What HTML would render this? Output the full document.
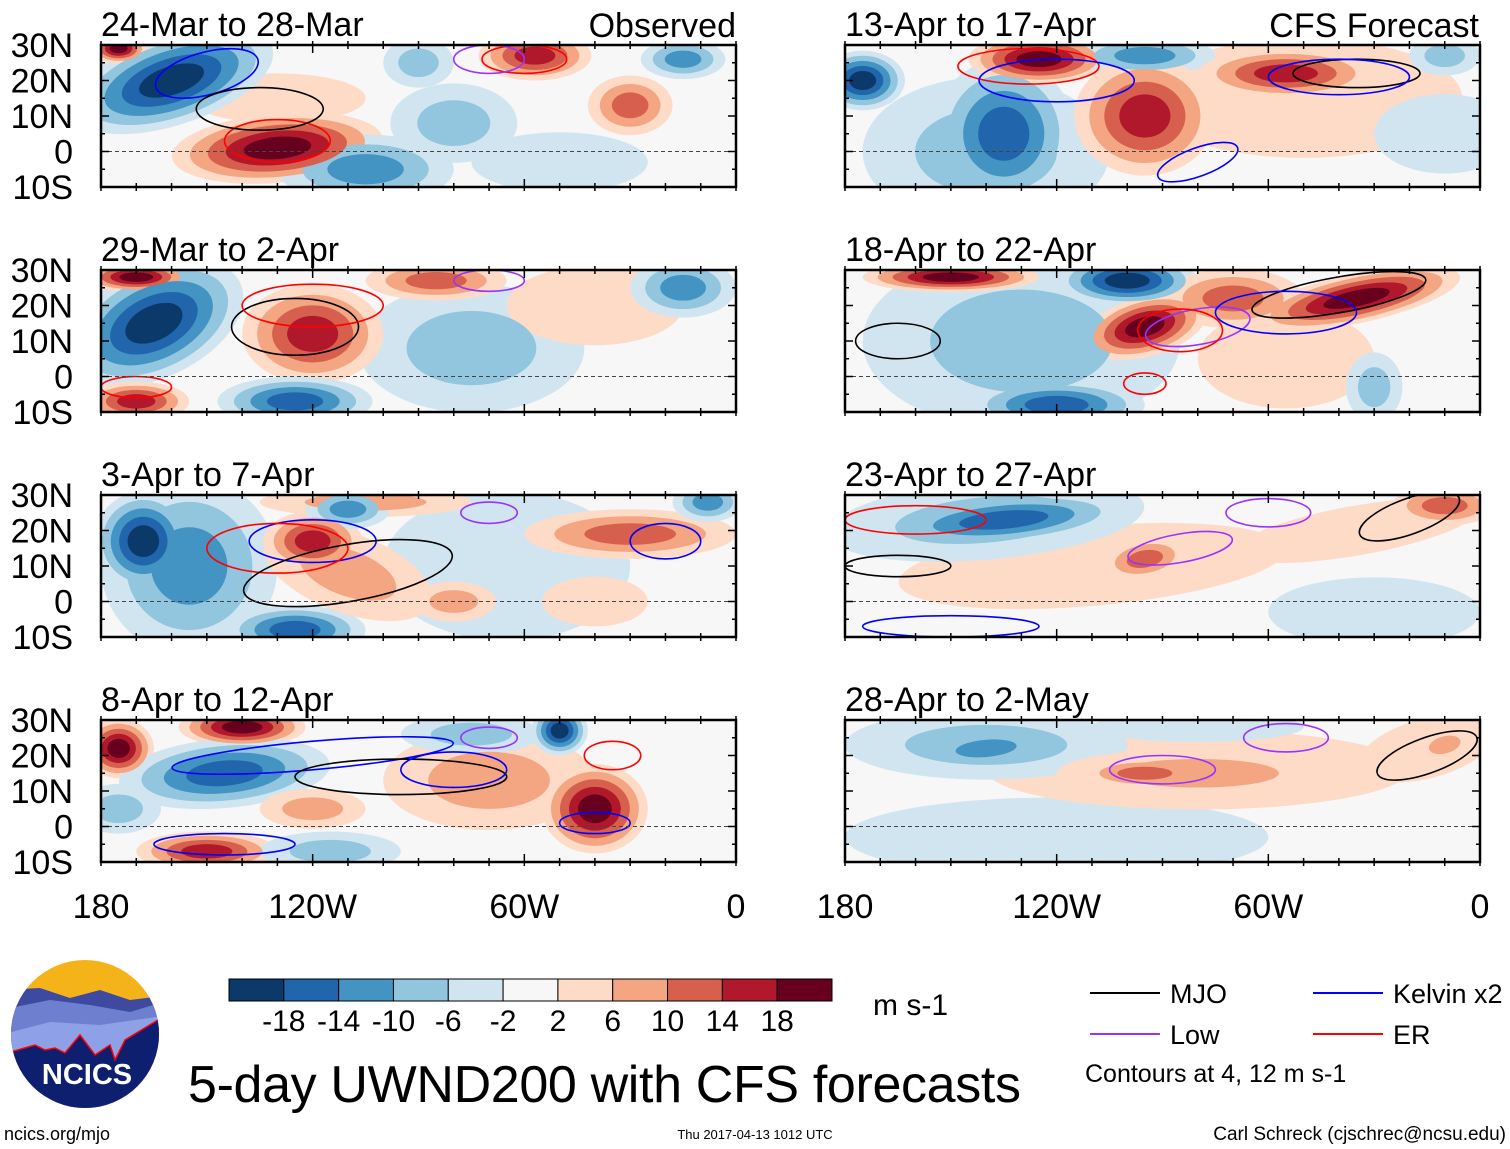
<!DOCTYPE html>
<html><head><meta charset="utf-8"><style>
html,body{margin:0;padding:0;background:#fff;}
svg{display:block;font-family:"Liberation Sans",Arial,sans-serif;}
</style></head><body>
<svg id="chart" width="1510" height="1149" viewBox="0 0 1510 1149"></svg>
<script>
// ---- data ----
const levelsPos = [2,6,10,14,18];
const colorsPos = ["#fddbc7","#f4a582","#d6604d","#b2182b","#67001f"];
const colorsNeg = ["#d1e5f0","#92c5de","#4393c3","#2166ac","#0b3a6a"];
const cbarColors = ["#0b3a6a","#2166ac","#4393c3","#92c5de","#d1e5f0","#f7f7f7","#fddbc7","#f4a582","#d6604d","#b2182b","#67001f"];
const cbarLabels = ["-18","-14","-10","-6","-2","2","6","10","14","18"];
const latTicks = ["30N","20N","10N","0","10S"];
const latVals = [30,20,10,0,-10];
const lonTickLabels = ["180","120W","60W","0"];
const lonTickVals = [180,120,60,0];
const panelTitles = ["24-Mar to 28-Mar","29-Mar to 2-Apr","3-Apr to 7-Apr","8-Apr to 12-Apr","13-Apr to 17-Apr","18-Apr to 22-Apr","23-Apr to 27-Apr","28-Apr to 2-May"];
// blobs: [lonW, lat, value, rxDeg, ryDeg, rot]
const panelBlobs = [
 [[130,15,2,25,5,0],[160,20,-18,30,9,-18],[175,29,18,8,3,0],[130,1,18,30,7,-5],[57,27,14,16,5,0],[30,13,10,12,6,0],[80,8,-6,18,8,0],[105,-5,-10,25,7,0],[50,-3,-2,25,6,0],[15,26,-10,12,4,0],[90,25,-6,10,5,0]],
 [[75,8,-6,32,13,0],[40,20,2,25,8,0],[165,15,-18,27,11,-25],[170,28,18,15,3,0],[120,12,14,20,10,0],[170,-7,14,15,4,0],[125,-7,-14,22,5,0],[85,27,10,20,4,0],[15,25,-10,15,6,0]],
 [[65,10,-2,35,15,0],[155,10,-10,25,18,0],[168,17,-18,14,10,0],[125,-8,-14,20,5,0],[110,8,6,25,8,20],[120,17,14,14,6,0],[105,28,6,30,3,0],[110,26,-10,12,4,0],[30,19,10,30,5,0],[8,28,-10,10,4,0],[80,0,6,12,4,0],[40,0,2,15,5,0]],
 [[70,13,6,30,10,0],[175,22,18,10,6,0],[140,28,18,18,4,0],[145,15,-14,30,7,-5],[75,26,-6,20,4,0],[50,27,-18,8,5,0],[40,5,18,15,9,0],[120,5,6,15,4,0],[150,-7,14,20,4,0],[115,-7,-6,20,4,0],[175,5,-6,12,5,0]],
 [[50,15,2,45,12,0],[140,0,-6,35,15,0],[175,20,-18,12,6,0],[135,5,-14,20,15,0],[125,26,18,20,5,0],[95,27,-10,20,4,0],[95,10,14,20,12,0],[55,22,14,25,5,0],[10,5,-2,20,8,0],[10,27,-6,10,4,0]],
 [[130,10,-6,45,18,0],[55,5,2,25,10,0],[150,28,18,25,3,0],[100,27,-18,20,5,0],[95,14,18,18,6,-15],[35,22,18,30,5,-12],[70,22,10,20,6,0],[120,-8,-14,25,5,0],[30,-3,-6,8,7,0]],
 [[110,10,2,55,8,-5],[140,23,-6,45,8,-5],[135,23,-14,35,5,-5],[95,12,10,12,4,-10],[35,20,2,35,5,-10],[10,27,10,15,4,0],[30,-3,-2,30,7,0]],
 [[120,-3,-2,60,8,0],[80,16,2,60,8,0],[140,23,-6,40,7,0],[140,22,-10,20,4,-5],[80,15,6,40,5,0],[95,15,10,18,3,0],[15,22,2,20,6,-15],[10,23,6,8,3,-15],[80,28,-2,30,3,0]]
];
// contours: [lonW, lat, rxDeg, ryDeg, rot, color]
const panelContours = [
 [[130,3,15,6,0,"red"],[150,22,15,6,-15,"blue"],[60,26,12,4,0,"red"],[70,26,10,4,0,"#9933ff"],[135,12,18,6,0,"black"]],
 [[125,14,18,8,0,"black"],[120,20,20,6,0,"red"],[70,27,10,3,0,"#9933ff"],[170,-3,10,3,0,"red"]],
 [[120,17,18,6,0,"blue"],[130,15,20,7,0,"red"],[110,8,30,8,-10,"black"],[20,17,10,5,0,"blue"],[70,25,8,3,0,"#9933ff"]],
 [[120,20,40,4,-5,"blue"],[95,14,30,5,0,"black"],[80,16,15,5,0,"blue"],[40,1,10,3,0,"blue"],[145,-5,20,3,0,"blue"],[35,20,8,4,0,"red"],[70,25,8,3,0,"#9933ff"]],
 [[128,24,20,5,0,"red"],[120,20,22,6,0,"blue"],[35,22,18,4,0,"black"],[40,21,20,5,0,"blue"],[80,-3,12,4,-20,"blue"]],
 [[80,14,15,5,-10,"#9933ff"],[85,13,12,6,0,"red"],[40,23,25,5,-10,"black"],[55,18,20,6,0,"blue"],[165,10,12,5,0,"black"],[95,-2,6,3,0,"red"]],
 [[85,15,15,4,-10,"#9933ff"],[60,25,12,4,0,"#9933ff"],[20,24,15,5,-20,"black"],[150,-7,25,3,0,"blue"],[160,23,20,4,0,"red"],[165,10,15,3,0,"black"]],
 [[90,16,15,4,0,"#9933ff"],[55,25,12,4,0,"#9933ff"],[15,20,15,5,-20,"black"]]
];
// ---- layout ----
const NS="http://www.w3.org/2000/svg";
const svg=document.getElementById('chart');
function el(tag,attrs,parent){const e=document.createElementNS(NS,tag);for(const k in attrs)e.setAttribute(k,attrs[k]);(parent||svg).appendChild(e);return e;}
const pw=635, ph=142;
const colX=[101,845], rowY=[45,270,495,720];
const kx=pw/180, ky=ph/40;
function xScale(x0,lonW){return x0+(180-lonW)*kx;}
function yScale(y0,lat){return y0+(30-lat)*ky;}
const defs=el('defs',{});
for(let p=0;p<8;p++){
  const x0=colX[p<4?0:1], y0=rowY[p%4];
  const cp=el('clipPath',{id:'clip'+p},defs);
  el('rect',{x:x0,y:y0,width:pw,height:ph},cp);
  const g=el('g',{'clip-path':'url(#clip'+p+')'});
  
  
  el('rect',{x:x0,y:y0,width:pw,height:ph,fill:'#f7f7f7'},g);
  const blobs=panelBlobs[p];
  for(let li=0;li<levelsPos.length;li++){
    const L=levelsPos[li];
    blobs.forEach(b=>{
      const v=Math.abs(b[2]); if(L>v)return;
      const nL=levelsPos.filter(q=>q<=v).length;
      const f=1-li/nL*0.85;
      const cx=xScale(x0,b[0]), cy=yScale(y0,b[1]);
      const e=el('ellipse',{cx:cx,cy:cy,rx:b[3]*kx*f,ry:b[4]*ky*f*1.4,fill:b[2]>0?colorsPos[li]:colorsNeg[li],transform:`rotate(${b[5]} ${cx} ${cy})`},g);
      
      
    });
  }
  panelContours[p].forEach(c=>{
    const cx=xScale(x0,c[0]), cy=yScale(y0,c[1]);
    const e=el('ellipse',{cx:cx,cy:cy,rx:c[2]*kx,ry:c[3]*ky,fill:'none',stroke:c[5],'stroke-width':1.6,transform:`rotate(${c[4]} ${cx} ${cy})`},g);
    
    
  });
  el('line',{x1:x0,x2:x0+pw,y1:yScale(y0,0),y2:yScale(y0,0),stroke:'#444','stroke-width':1,'stroke-dasharray':'4,3'},g);
  const fr=el('rect',{x:x0,y:y0,width:pw,height:ph,fill:'none',stroke:'#000','stroke-width':2.5});
  
  
  for(let lon=180;lon>=0;lon-=10){
    const x=xScale(x0,lon), big=lon%60===0?8:4;
    el('line',{x1:x,x2:x,y1:y0,y2:y0+big,stroke:'#000','stroke-width':1.5});
    el('line',{x1:x,x2:x,y1:y0+ph,y2:y0+ph-big,stroke:'#000','stroke-width':1.5});
    el('line',{x1:x,x2:x,y1:y0-4,y2:y0,stroke:'#000','stroke-width':1.5});
    el('line',{x1:x,x2:x,y1:y0+ph,y2:y0+ph+4,stroke:'#000','stroke-width':1.5});
  }
  for(let lat=-10;lat<=30;lat+=5){
    const y=yScale(y0,lat), big=lat%10===0?8:4;
    el('line',{x1:x0,x2:x0+big,y1:y,y2:y,stroke:'#000','stroke-width':1.5});
    el('line',{x1:x0+pw,x2:x0+pw-big,y1:y,y2:y,stroke:'#000','stroke-width':1.5});
  }
  const t=el('text',{x:x0,y:y0-9,'font-size':34,fill:'#000'});t.textContent=panelTitles[p];
  
  
  if(p<4){
    latTicks.forEach((lab,i)=>{
      const tt=el('text',{x:x0-28,y:yScale(y0,latVals[i])+12,'font-size':34,'text-anchor':'end'});tt.textContent=lab;
      
      
    });
  }
}
let h1=el('text',{x:736,y:37,'font-size':34,'text-anchor':'end'});h1.textContent='Observed';


let h2=el('text',{x:1479,y:37,'font-size':34,'text-anchor':'end'});h2.textContent='CFS Forecast';


colX.forEach(x0=>{
  lonTickLabels.forEach((lab,i)=>{
    const t=el('text',{x:xScale(x0,lonTickVals[i]),y:918,'font-size':34,'text-anchor':'middle'});t.textContent=lab;
    
    
  });
});
const cbX=229,cbW=603,cbY=979,cbH=22,bw=cbW/cbarColors.length;
cbarColors.forEach((c,i)=>{
  const r=el('rect',{x:cbX+i*bw,y:cbY,width:bw,height:cbH,fill:c,stroke:'#000','stroke-width':1});
  
  
});
cbarLabels.forEach((l,i)=>{
  const t=el('text',{x:cbX+(i+1)*bw,y:1031,'font-size':30,'text-anchor':'middle'});t.textContent=l;
  
  
});
let u=el('text',{x:873,y:1015,'font-size':30});u.textContent='m s-1';


let ti=el('text',{x:188,y:1102,'font-size':52,textLength:833});ti.textContent='5-day UWND200 with CFS forecasts';


const legNames=["MJO","Low","Kelvin x2","ER"], legColors=["#000","#9933ff","blue","red"], legX=[1090,1090,1313,1313], legY=[993,1034,993,1034];
legNames.forEach((n,i)=>{
  el('line',{x1:legX[i],x2:legX[i]+70,y1:legY[i],y2:legY[i],stroke:legColors[i],'stroke-width':2});
  const t=el('text',{x:legX[i]+80,y:legY[i]+10,'font-size':27});t.textContent=n;
  
  
});
let ct=el('text',{x:1085,y:1082,'font-size':25});ct.textContent='Contours at 4, 12 m s-1';


const lg=el('g',{});


const lcp=el('clipPath',{id:'logoclip'},defs);el('circle',{cx:85,cy:1034,r:74},lcp);
const lgi=el('g',{'clip-path':'url(#logoclip)'},lg);
el('rect',{x:0,y:950,width:180,height:200,fill:'#f5b31a'},lgi);
el('path',{d:'M0 990 L40 988 L70 998 L100 990 L130 1000 L170 995 L170 1150 L0 1150Z',fill:'#3d4aa0'},lgi);
el('path',{d:'M0 1010 L50 1000 L90 1005 L130 1012 L170 1000 L170 1150 L0 1150Z',fill:'#6f7fd0'},lgi);
el('path',{d:'M0 1035 L50 1022 L100 1025 L170 1015 L170 1150 L0 1150Z',fill:'#8ea0e6'},lgi);
el('path',{d:'M0 1055 L35 1045 L45 1050 L55 1048 L65 1053 L80 1035 L95 1055 L110 1045 L115 1060 L125 1040 L158 1020 L170 1020 L170 1150 L0 1150Z',fill:'#0d1f6e',stroke:'red','stroke-width':1.5},lgi);
let nt=el('text',{x:87,y:1084,'font-size':29,'font-weight':'bold',fill:'#fff','text-anchor':'middle'},lg);nt.textContent='NCICS';
let f1=el('text',{x:4,y:1140,'font-size':18});f1.textContent='ncics.org/mjo';


let f2=el('text',{x:755,y:1139,'font-size':13,'text-anchor':'middle'});f2.textContent='Thu 2017-04-13 1012 UTC';


let f3=el('text',{x:1506,y:1140,'font-size':19,'text-anchor':'end'});f3.textContent='Carl Schreck (cjschrec@ncsu.edu)';


</script>
</body></html>
